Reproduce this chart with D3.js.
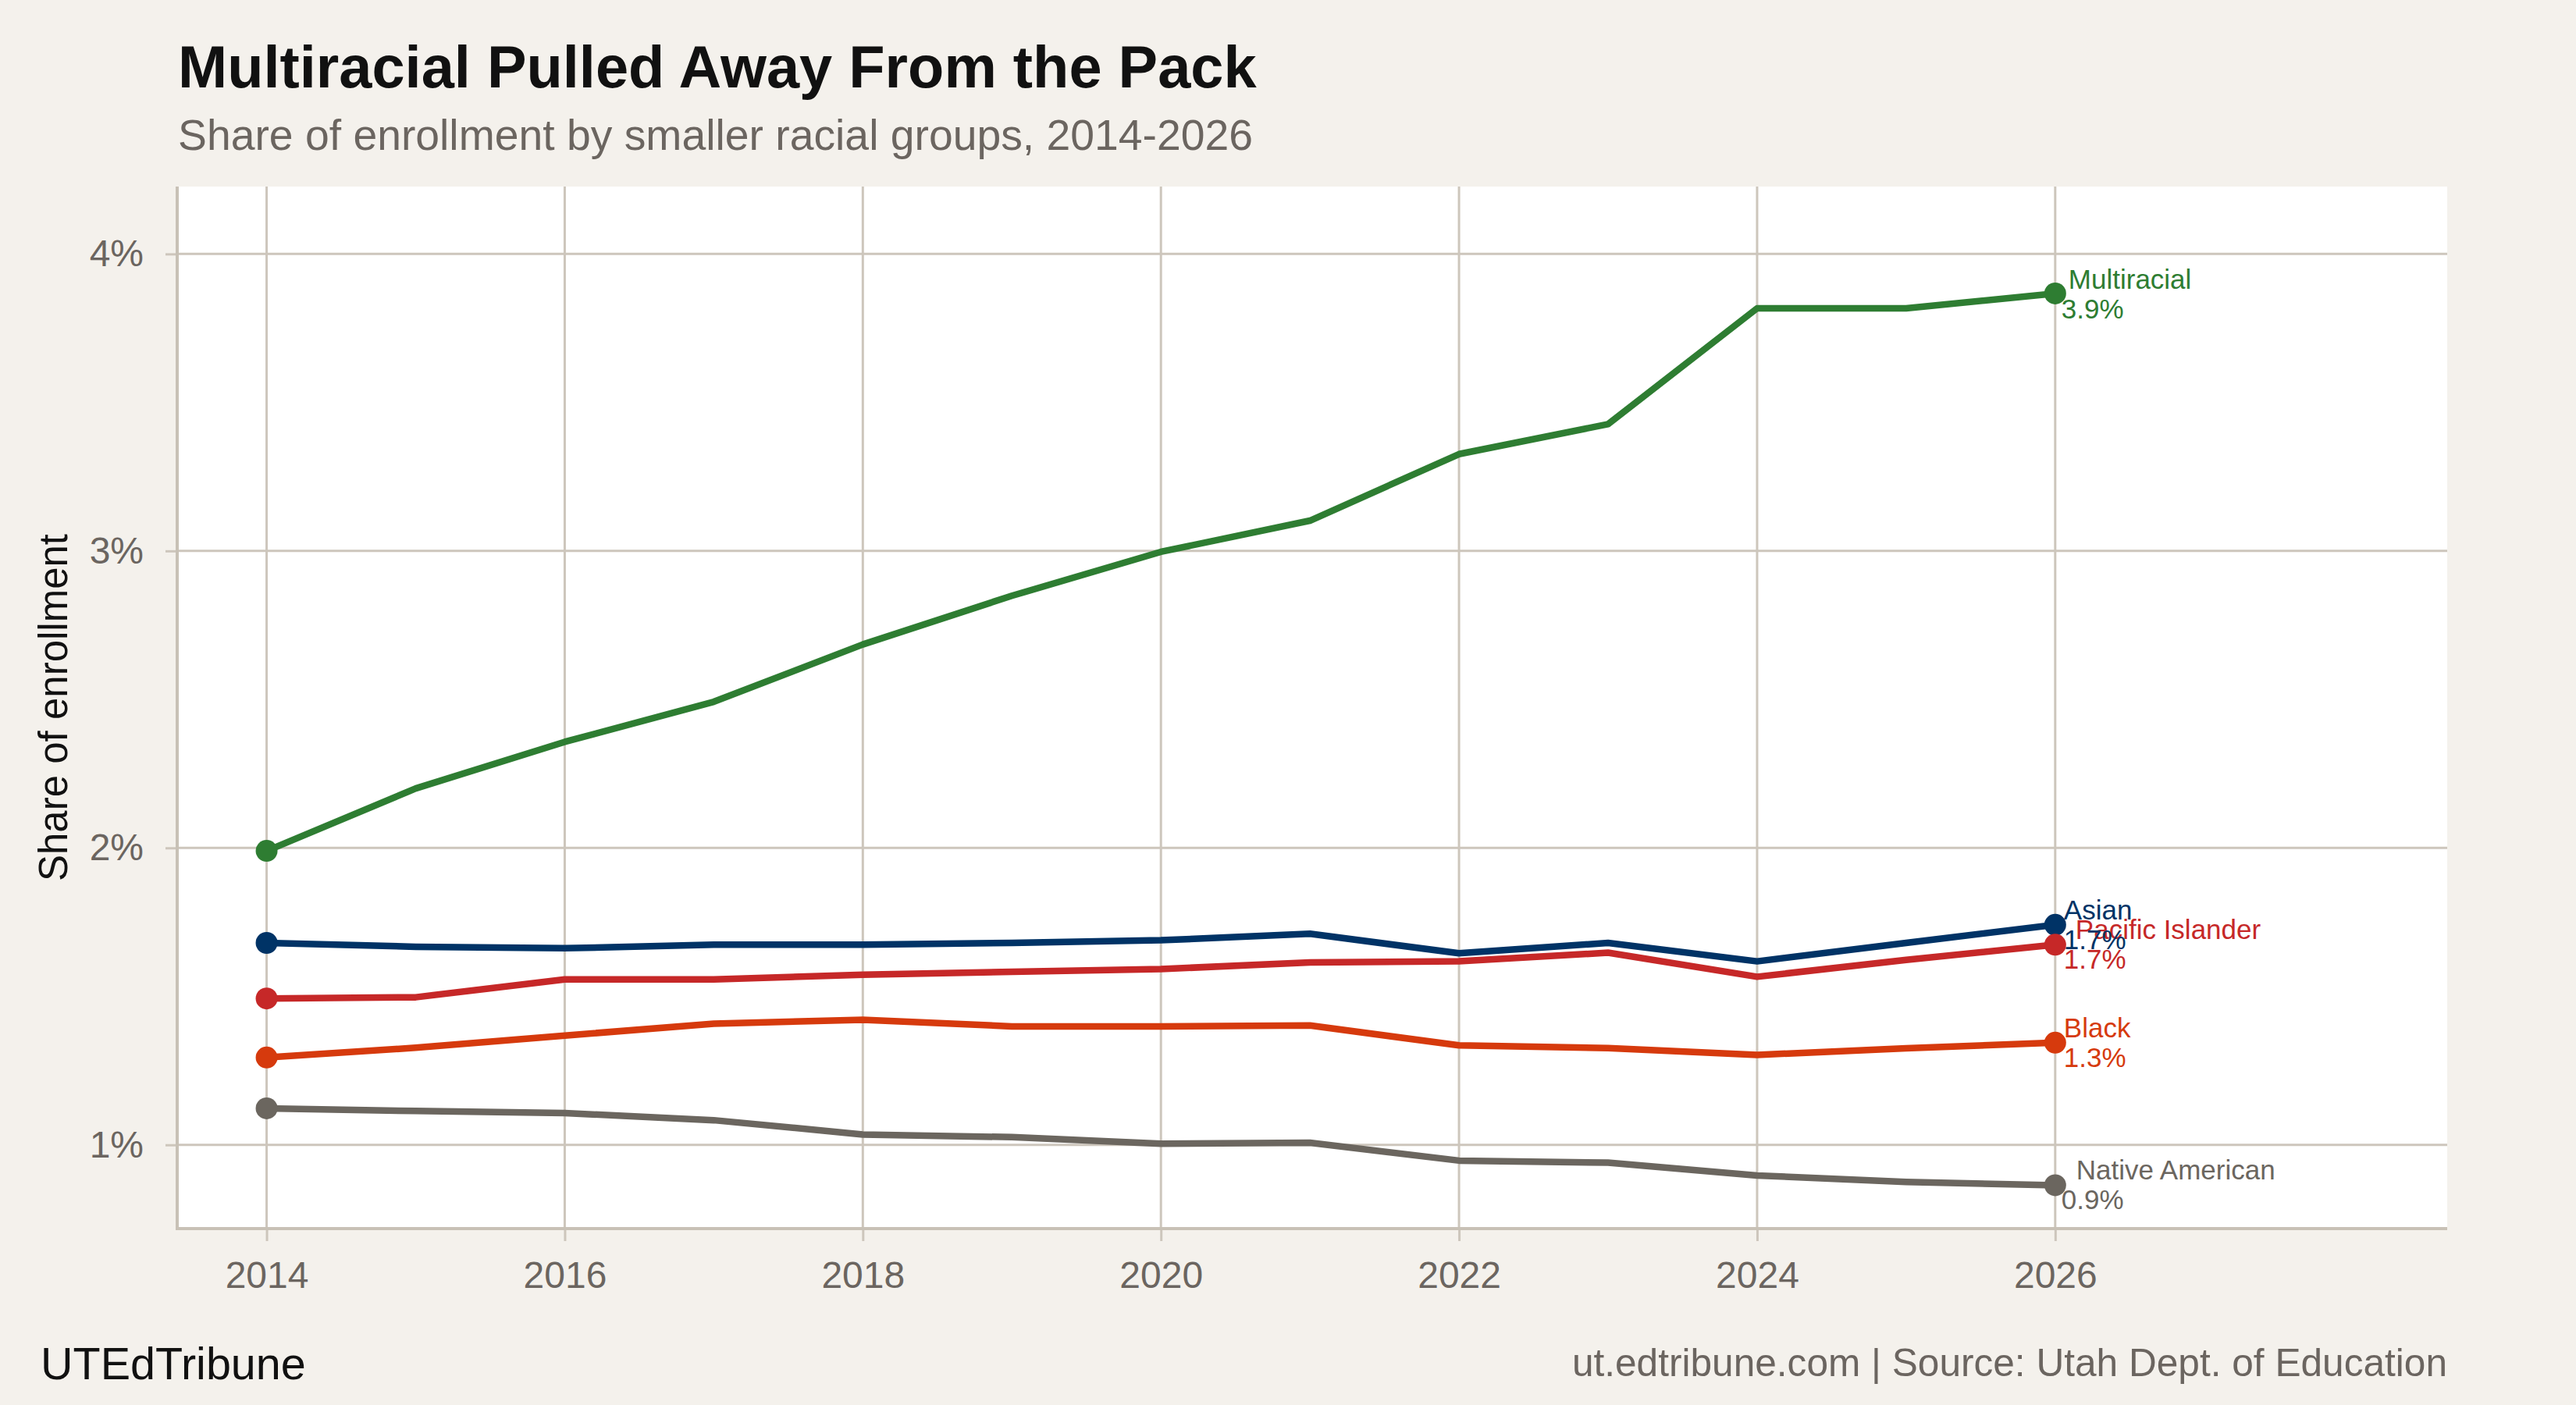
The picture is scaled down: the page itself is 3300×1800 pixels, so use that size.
<!DOCTYPE html>
<html>
<head>
<meta charset="utf-8">
<script src="https://cdn.jsdelivr.net/npm/d3@7"></script>
<style>
    body { margin: 0; background: #f4f1ec; }
    svg { display: block; font-family: "Liberation Sans", Arial, sans-serif; }
</style>
</head>
<body>
<div id="chart"></div>
<script>
// data, share of enrollment in %
const years = [2014, 2015, 2016, 2017, 2018, 2019, 2020, 2021, 2022, 2023, 2024, 2025, 2026];
const groups = ['Multiracial', 'Asian', 'Pacific Islander', 'Black', 'Native American'];
const multiracial = [1.99, 2.20, 2.357, 2.492, 2.685, 2.849, 2.997, 3.102, 3.326, 3.427, 3.817, 3.817, 3.867];
const asian = [1.680, 1.667, 1.662, 1.674, 1.674, 1.680, 1.689, 1.711, 1.645, 1.680, 1.618, 1.680, 1.741];
const pacificIslander = [1.493, 1.497, 1.557, 1.557, 1.573, 1.583, 1.592, 1.614, 1.618, 1.647, 1.566, 1.623, 1.674];
const black = [1.294, 1.327, 1.368, 1.408, 1.421, 1.399, 1.399, 1.402, 1.335, 1.326, 1.303, 1.325, 1.344];
const nativeAmerican = [1.123, 1.114, 1.107, 1.083, 1.035, 1.026, 1.004, 1.007, 0.947, 0.940, 0.897, 0.875, 0.864];
const xTicks = [2014, 2016, 2018, 2020, 2022, 2024, 2026];
const yTicks = [1, 2, 3, 4];

(function(){
    const fullWidth = 3300;
    const fullHeight = 1800;

    const panel = { left: 227, right: 3135, top: 239, bottom: 1574 };

    const colors = {
        'Multiracial': '#2e7d32',
        'Asian': '#003366',
        'Pacific Islander': '#c62828',
        'Black': '#d63a0d',
        'Native American': '#6b665f',
    };
    // label offsets from the end point (name / value)
    const nudge = {
        'Multiracial': [17, -6, 8, 32],
        'Asian': [11, -7, 11, 31],
        'Pacific Islander': [26, -7, 11, 31],
        'Black': [11, -7, 11, 31],
        'Native American': [27, -7, 8, 31],
    };
    const valuesByGroup = [multiracial, asian, pacificIslander, black, nativeAmerican];

    const series = groups.map((g, i) => ({
        name: g,
        values: years.map((y, j) => ({ year: y, value: valuesByGroup[i][j] }))
    }));

    const grid = '#cdc6bc';
    const gray = '#6b6560';

    const svg = d3.select('#chart')
        .append('svg')
            .attr('width', fullWidth)
            .attr('height', fullHeight);

    svg.append('rect')
        .attr('width', fullWidth)
        .attr('height', fullHeight)
        .attr('fill', '#f4f1ec');

    const xScale = d3.scaleLinear()
        .domain([2013.4, 2028.63])
        .range([panel.left, panel.right]);

    const yScale = d3.scaleLinear()
        .domain([0.718, 4.227])
        .range([panel.bottom, panel.top]);

    svg.append('rect')
        .attr('x', panel.left)
        .attr('y', panel.top)
        .attr('width', panel.right - panel.left)
        .attr('height', panel.bottom - panel.top)
        .attr('fill', '#ffffff');

    // gridlines
    svg.append('g')
        .selectAll('line')
        .data(yTicks)
        .enter()
        .append('line')
            .attr('x1', panel.left)
            .attr('x2', panel.right)
            .attr('y1', d => yScale(d))
            .attr('y2', d => yScale(d))
            .attr('stroke', grid)
            .attr('stroke-width', 3);

    svg.append('g')
        .selectAll('line')
        .data(xTicks)
        .enter()
        .append('line')
            .attr('x1', d => xScale(d))
            .attr('x2', d => xScale(d))
            .attr('y1', panel.top)
            .attr('y2', panel.bottom)
            .attr('stroke', grid)
            .attr('stroke-width', 3);

    // axes
    const xAxis = d3.axisBottom(xScale)
        .tickValues(xTicks)
        .tickFormat(d3.format('d'))
        .tickSize(16)
        .tickPadding(26);

    const gx = svg.append('g')
        .attr('transform', `translate(0, ${panel.bottom})`)
        .call(xAxis);
    gx.select('.domain').remove();
    gx.selectAll('line').attr('stroke', grid).attr('stroke-width', 3);
    gx.selectAll('text')
        .attr('fill', gray)
        .style('font-size', '48px')
        .style('font-family', '"Liberation Sans", Arial, sans-serif');

    const yAxis = d3.axisLeft(yScale)
        .tickValues(yTicks)
        .tickFormat(d => d + '%')
        .tickSize(15)
        .tickPadding(28);

    const gy = svg.append('g')
        .attr('transform', `translate(${panel.left}, 0)`)
        .call(yAxis);
    gy.select('.domain').remove();
    gy.selectAll('line').attr('stroke', grid).attr('stroke-width', 3);
    gy.selectAll('text')
        .attr('fill', gray)
        .style('font-size', '48px')
        .style('font-family', '"Liberation Sans", Arial, sans-serif');

    // axis lines on left and bottom
    svg.append('line')
        .attr('x1', panel.left).attr('x2', panel.left)
        .attr('y1', panel.top).attr('y2', panel.bottom + 2)
        .attr('stroke', '#c8c1b6').attr('stroke-width', 4);
    svg.append('line')
        .attr('x1', panel.left).attr('x2', panel.right)
        .attr('y1', panel.bottom).attr('y2', panel.bottom)
        .attr('stroke', '#c8c1b6').attr('stroke-width', 4);

    // lines
    const line = d3.line()
        .x(d => xScale(d.year))
        .y(d => yScale(d.value));

    svg.append('g')
        .selectAll('path')
        .data(series)
        .enter()
        .append('path')
            .attr('d', d => line(d.values))
            .attr('fill', 'none')
            .attr('stroke', d => colors[d.name])
            .attr('stroke-width', 8.5)
            .attr('stroke-linejoin', 'round');

    // end points
    const ends = series.flatMap(s => [
        { name: s.name, ...s.values[0] },
        { name: s.name, ...s.values[s.values.length - 1] }
    ]);

    svg.append('g')
        .selectAll('circle')
        .data(ends)
        .enter()
        .append('circle')
            .attr('cx', d => xScale(d.year))
            .attr('cy', d => yScale(d.value))
            .attr('r', 14)
            .attr('fill', d => colors[d.name]);

    // end labels
    const last = series.map(s => ({ name: s.name, ...s.values[s.values.length - 1] }));
    const labels = svg.append('g')
        .style('font-size', '35px');

    labels.selectAll('text.name')
        .data(last)
        .enter()
        .append('text')
            .attr('class', 'name')
            .attr('x', d => xScale(d.year) + nudge[d.name][0])
            .attr('y', d => yScale(d.value) + nudge[d.name][1])
            .attr('fill', d => colors[d.name])
            .text(d => d.name);

    labels.selectAll('text.val')
        .data(last)
        .enter()
        .append('text')
            .attr('class', 'val')
            .attr('x', d => xScale(d.year) + nudge[d.name][2])
            .attr('y', d => yScale(d.value) + nudge[d.name][3])
            .attr('fill', d => colors[d.name])
            .text(d => d3.format('.1f')(d.value) + '%');

    // titles
    svg.append('text')
        .attr('x', 228)
        .attr('y', 112)
        .attr('fill', '#111111')
        .style('font-size', '75.8px')
        .style('font-weight', 'bold')
        .text('Multiracial Pulled Away From the Pack');

    svg.append('text')
        .attr('x', 228)
        .attr('y', 192)
        .attr('fill', gray)
        .style('font-size', '55.3px')
        .text('Share of enrollment by smaller racial groups, 2014-2026');

    svg.append('text')
        .attr('transform', `translate(86, ${(panel.top + panel.bottom) / 2}) rotate(-90)`)
        .attr('text-anchor', 'middle')
        .attr('fill', '#111111')
        .style('font-size', '51px')
        .text('Share of enrollment');

    svg.append('text')
        .attr('x', 52)
        .attr('y', 1767)
        .attr('fill', '#111111')
        .style('font-size', '57.5px')
        .text('UTEdTribune');

    svg.append('text')
        .attr('x', panel.right)
        .attr('y', 1763)
        .attr('text-anchor', 'end')
        .attr('fill', gray)
        .style('font-size', '49.6px')
        .text('ut.edtribune.com | Source: Utah Dept. of Education');
}())
</script>
</body>
</html>
